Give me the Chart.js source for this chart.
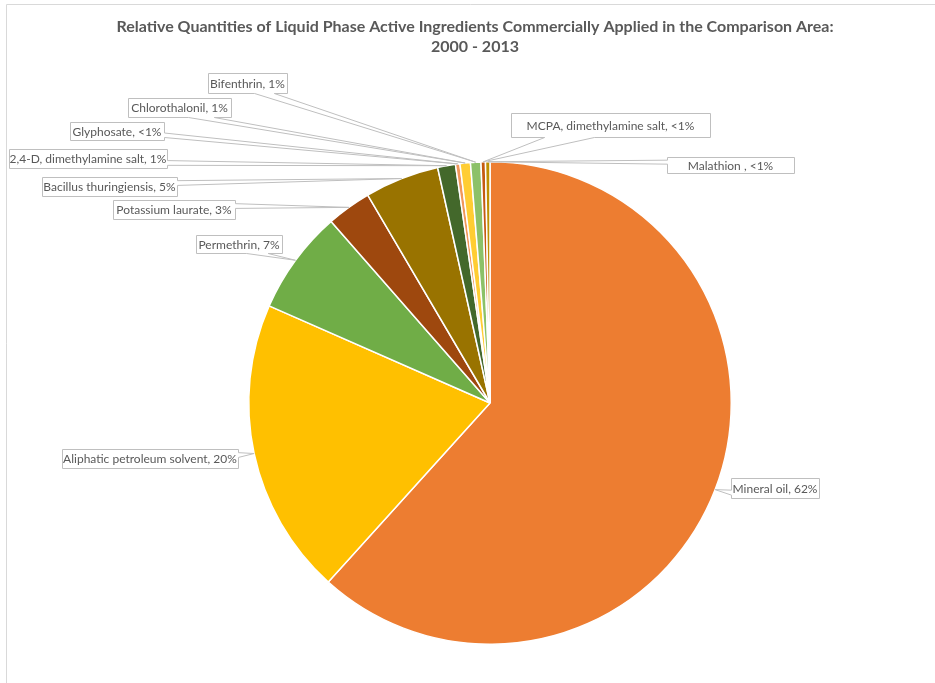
<!DOCTYPE html>
<html>
<head>
<meta charset="utf-8">
<title>Liquid Phase Active Ingredients</title>
<script src="https://cdn.jsdelivr.net/npm/chart.js@4.4.1/dist/chart.umd.min.js"></script>
<style>
    html, body { margin: 0; padding: 0; background: #fff; }
    canvas { display: block; }
</style>
</head>
<body>
<canvas id="ingredientsPie" width="935" height="683"></canvas>
<script>
const titleLines = [
    'Relative Quantities of Liquid Phase Active Ingredients Commercially Applied in the Comparison Area:',
    '2000 - 2013'
];

const ingredientNames = ['Mineral oil', 'Aliphatic petroleum solvent', 'Permethrin', 'Potassium laurate',
    'Bacillus thuringiensis', '2,4-D, dimethylamine salt', 'Glyphosate', 'Chlorothalonil', 'Bifenthrin',
    'MCPA, dimethylamine salt', 'Malathion '];

// share of total applied quantity, %
const sharePercent = [62, 20, 7, 3, 5, 1.2, 0.3, 0.7, 0.7, 0.3, 0.3];

const sliceColors = ['#ED7D31', '#FFC000', '#70AD47', '#9E480E', '#997300', '#43682B',
    '#F1975A', '#FFCD33', '#8CC168', '#C55A11', '#BF9000'];

// callout boxes: left, top, width, height
const labelBoxes = [
    [731, 478, 88, 20],
    [62, 449, 176, 19],
    [196, 235, 86, 18],
    [113, 200, 122, 19],
    [42, 177, 135, 19],
    [9, 149, 158, 19],
    [70, 122, 94, 18],
    [128, 98, 103, 19],
    [208, 73, 79, 20],
    [511, 113, 199, 24],
    [667, 157, 127, 16]
];

function percentText(v) {
    return Math.round(v) < 1 ? '<1%' : Math.round(v) + '%';
}

// rectangle callout with a wedge pointing at (px, py)
function calloutPath(ctx, x, y, w, h, px, py) {
    const dx = px - (x + w / 2);
    const dy = py - (y + h / 2);
    const dz = Math.abs(dy) - Math.abs(dx * h / w);
    const x1 = x + w * (dx > 0 ? 7 : 2) / 12, x2 = x + w * (dx > 0 ? 10 : 5) / 12;
    const y1 = y + h * (dy > 0 ? 7 : 2) / 12, y2 = y + h * (dy > 0 ? 10 : 5) / 12;

    ctx.beginPath();
    ctx.moveTo(x, y);
    if (dz > 0 && dy < 0) { ctx.lineTo(x1, y); ctx.lineTo(px, py); ctx.lineTo(x2, y); }
    ctx.lineTo(x + w, y);
    if (dz <= 0 && dx > 0) { ctx.lineTo(x + w, y1); ctx.lineTo(px, py); ctx.lineTo(x + w, y2); }
    ctx.lineTo(x + w, y + h);
    if (dz > 0 && dy > 0) { ctx.lineTo(x2, y + h); ctx.lineTo(px, py); ctx.lineTo(x1, y + h); }
    ctx.lineTo(x, y + h);
    if (dz <= 0 && dx < 0) { ctx.lineTo(x, y2); ctx.lineTo(px, py); ctx.lineTo(x, y1); }
    ctx.closePath();
}

const calloutLabels = {
    id: 'calloutLabels',
    afterDraw(chart) {
        const ctx = chart.ctx;
        ctx.save();

        // frame
        ctx.strokeStyle = '#D9D9D9';
        ctx.lineWidth = 1;
        ctx.beginPath();
        ctx.moveTo(6.5, 683);
        ctx.lineTo(6.5, 4.5);
        ctx.lineTo(935, 4.5);
        ctx.stroke();

        // title
        ctx.fillStyle = '#595959';
        ctx.font = 'bold 16px Lato';
        ctx.textAlign = 'center';
        ctx.textBaseline = 'middle';
        titleLines.forEach((line, i) => ctx.fillText(line, 475, 27 + i * 20));

        // data labels
        ctx.font = '12px Lato';
        const arcs = chart.getDatasetMeta(0).data;
        arcs.forEach((arc, i) => {
            const mid = (arc.startAngle + arc.endAngle) / 2;
            const ax = arc.x + Math.cos(mid) * arc.outerRadius;
            const ay = arc.y + Math.sin(mid) * arc.outerRadius;
            const [bx, by, bw, bh] = labelBoxes[i];

            ctx.fillStyle = '#FFFFFF';
            ctx.fillRect(bx, by, bw, bh);
            calloutPath(ctx, bx + 0.5, by + 0.5, bw, bh, ax, ay);
            ctx.strokeStyle = '#BFBFBF';
            ctx.stroke();

            ctx.fillStyle = '#595959';
            ctx.fillText(ingredientNames[i] + ', ' + percentText(sharePercent[i]), bx + bw / 2, by + bh / 2 + 1);
        });
        ctx.restore();
    }
};

new Chart(document.getElementById('ingredientsPie'), {
    type: 'pie',
    data: {
        labels: ingredientNames,
        datasets: [{
            data: sharePercent,
            backgroundColor: sliceColors,
            borderColor: '#FFFFFF',
            borderWidth: 1.5
        }]
    },
    options: {
        responsive: false,
        animation: false,
        layout: {
            padding: { top: 161, left: 248, right: 203, bottom: 38 }
        },
        plugins: {
            legend: { display: false },
            tooltip: { enabled: false }
        }
    },
    plugins: [calloutLabels]
});
</script>
</body>
</html>
